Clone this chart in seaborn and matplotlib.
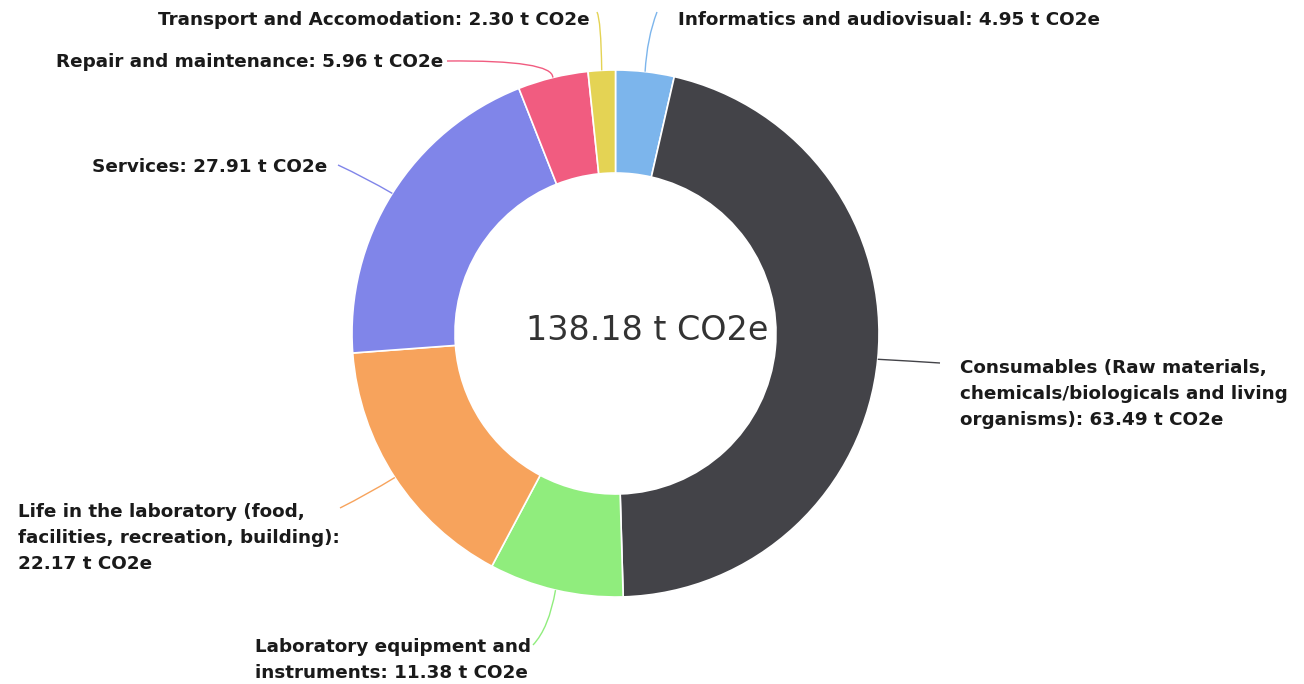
import numpy as np
import matplotlib
matplotlib.use("Agg")
import matplotlib.pyplot as plt
from matplotlib.path import Path
from matplotlib.patches import PathPatch
import seaborn as sns

# Emission categories (t CO2e), clockwise from 12 o'clock
categories = [
    "Informatics and audiovisual",
    "Consumables (Raw materials,\nchemicals/biologicals and living\norganisms)",
    "Laboratory equipment and\ninstruments",
    "Life in the laboratory (food,\nfacilities, recreation, building):\n",
    "Services",
    "Repair and maintenance",
    "Transport and Accomodation",
]
values = [4.95, 63.49, 11.38, 22.17, 27.91, 5.96, 2.30]
total_label = "138.18 t CO2e"

colors = sns.color_palette(
    ["#7cb5ec", "#434348", "#90ed7d", "#f7a35c", "#8085e9", "#f15c80", "#e4d354"]
)

W, H = 1304, 684
sns.set_style("white")
plt.rcParams["font.family"] = ["DejaVu Sans"]

fig = plt.figure(figsize=(W / 100, H / 100), dpi=100)
ax = fig.add_axes([0, 0, 1, 1])

cx, cy_pix, R = 615.5, 333.5, 263.5
ring = 103


def Y(v):
    return H - v


wedges, _ = ax.pie(
    values,
    colors=colors,
    startangle=90,
    counterclock=False,
    center=(cx, Y(cy_pix)),
    radius=R,
    wedgeprops=dict(width=ring, edgecolor="white", linewidth=1.2),
)
ax.set_xlim(0, W)
ax.set_ylim(0, H)
ax.set_aspect("equal")
ax.axis("off")

ax.text(647, Y(331), total_label, ha="center", va="center",
        fontsize=24, color="#333333")

# label placement: (text x, text y, ha, connector control point, connector end)
layout = [
    (678, 20, "left", (647, 38), (657, 12)),
    (960, 394, "left", (910, 361), (940, 363)),
    (255, 660, "left", (549, 628), (533, 645)),
    (18, 538, "left", (368, 494), (340, 508)),
    (327, 167, "right", (366, 178), (338, 165)),
    (443, 62, "right", (553, 60), (447, 61)),
    (590, 20, "right", (601, 20), (597, 12)),
]

tot = sum(values)
cum = 0.0
for name, val, col, (tx, ty, ha, ctrl, end) in zip(categories, values, colors, layout):
    mid = (cum + val / 2) / tot * 2 * np.pi
    cum += val
    ax_pt = (cx + R * np.sin(mid), Y(cy_pix - R * np.cos(mid)))
    path = Path([ax_pt, (ctrl[0], Y(ctrl[1])), (end[0], Y(end[1]))],
                [Path.MOVETO, Path.CURVE3, Path.CURVE3])
    ax.add_patch(PathPatch(path, facecolor="none", edgecolor=col, lw=1.0))
    if name.endswith(":\n"):
        label = f"{name}{val:.2f} t CO2e"
    else:
        label = f"{name}: {val:.2f} t CO2e"
    ax.text(tx, Y(ty), label, ha=ha, va="center", multialignment="left",
            fontsize=13.2, fontweight="bold", color="#1a1a1a", linespacing=1.55)

fig.savefig("out.png", dpi=100, facecolor="white")
